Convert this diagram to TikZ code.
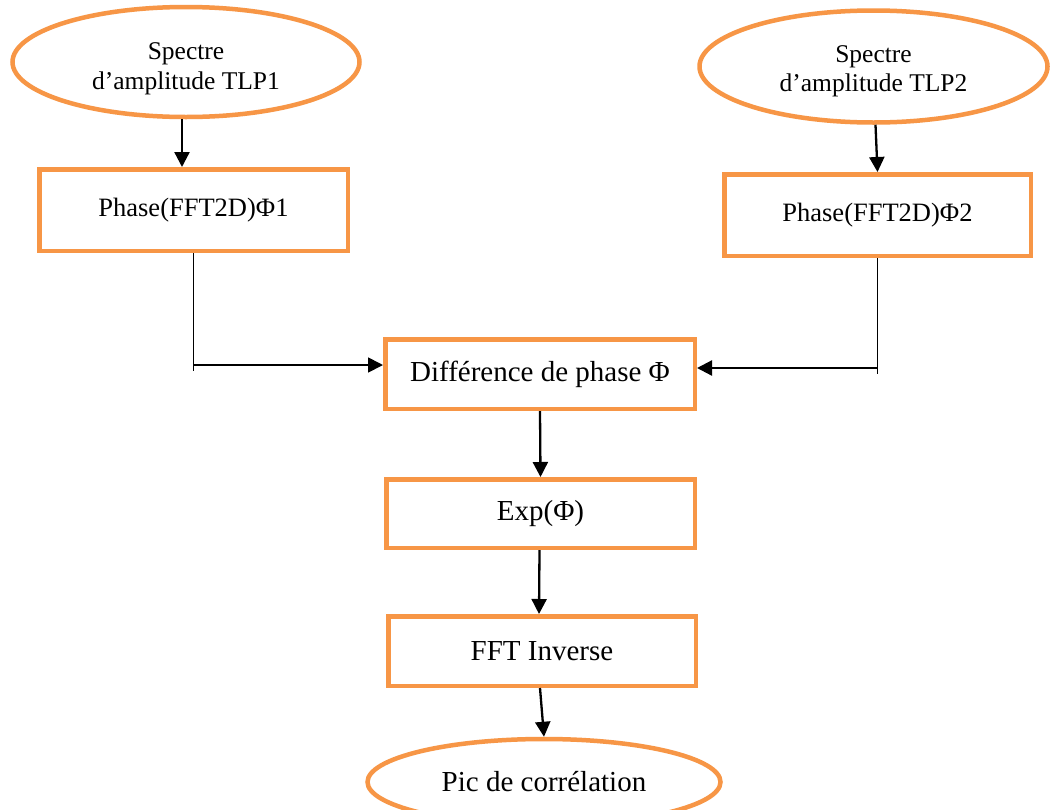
\documentclass[tikz,border=0pt]{standalone}
\usepackage{fontspec}
\setmainfont{Liberation Serif}
\usetikzlibrary{shapes.geometric,arrows.meta}
\definecolor{orng}{HTML}{F79646}
\begin{document}
\begin{tikzpicture}[x=1pt,y=-1pt,
 box/.style={draw=orng,line width=4.5pt,rectangle,align=center,inner sep=0pt},
 oval/.style={draw=orng,line width=4.5pt,ellipse,align=center,inner sep=0pt},
 smalltxt/.style={font=\fontsize{25.5}{29.5}\selectfont,align=center},
 midtxt/.style={font=\fontsize{26.5}{30}\selectfont},
 bigtxt/.style={font=\fontsize{29}{33}\selectfont},
 arr/.style={draw=black,line width=2.3pt,-{Triangle[length=15pt,width=15pt]}},
 ln/.style={draw=black,line width=1.6pt}]
\clip (0,0) rectangle (1051,809);
\fill[white] (0,0) rectangle (1051,809);
% nodes
\node[oval,minimum width=347pt,minimum height=110pt] (e1) at (186,62) {};
\node[smalltxt] (t1) at ([yshift=-7pt]e1.center) {Spectre\\d’amplitude TLP1};
\node[oval,minimum width=348pt,minimum height=112pt] (e2) at (873.5,66.5) {};
\node[smalltxt] (t2) at ([yshift=-5pt]e2.center) {Spectre\\d’amplitude TLP2};
\node[box,midtxt,minimum width=308.5pt,minimum height=81.5pt] (p1) at (193.5,210) {Phase(FFT2D)Φ1};
\node[box,midtxt,minimum width=306.5pt,minimum height=81.5pt] (p2) at (877.5,215) {Phase(FFT2D)Φ2};
\node[box,bigtxt,minimum width=309.5pt,minimum height=69.5pt] (diff) at (540,374) {Différence de phase Φ};
\node[box,bigtxt,minimum width=308.5pt,minimum height=68.5pt] (exp) at (540.5,513.5) {Exp(Φ)};
\node[box,bigtxt,minimum width=307.5pt,minimum height=69.5pt] (fft) at (542,651) {FFT Inverse};
\node[oval,bigtxt,minimum width=353pt,minimum height=86pt] (pic) at (544,782) {Pic de corrélation};
% connectors
\draw[arr] ([xshift=-4pt]e1.south) -- ([xshift=-4pt]e1.south |- p1.north);
\draw[arr] ([xshift=2pt]e2.south) -- ([xshift=4pt]e2.south |- p2.north);
\coordinate (jl) at ([yshift=9pt]p1.south |- diff.west);
\coordinate (jr) at ([yshift=6pt]p2.south |- diff.east);
\draw[ln] (p1.south) -- ([yshift=-6pt]jl);
\draw[arr,line width=1.8pt] (jl) -- ([yshift=9pt]diff.west);
\draw[ln] (p2.south) -- ([yshift=-6pt]jr);
\draw[arr] (jr) -- ([yshift=6pt]diff.east);
\draw[arr] (diff.south) -- (exp.north);
\draw[arr] ([xshift=-1pt]exp.south) -- ([xshift=-3pt]fft.north);
\draw[arr] ([xshift=-2pt]fft.south) -- (pic.north);
\end{tikzpicture}
\end{document}
